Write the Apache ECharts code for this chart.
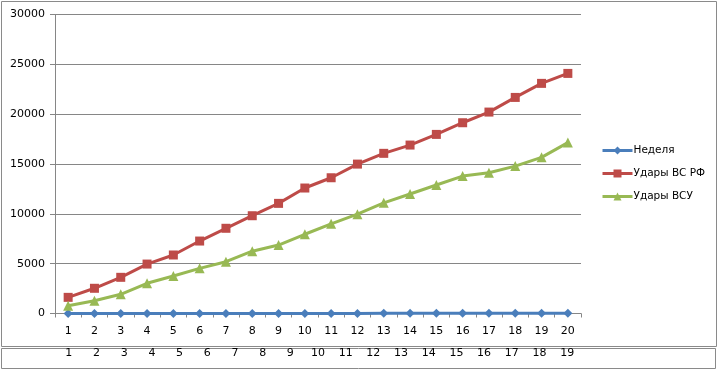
<!DOCTYPE html>
<html>
<head>
<meta charset="utf-8">
<script src="https://cdn.jsdelivr.net/npm/echarts@6/dist/echarts.min.js"></script>
<style>
html,body{margin:0;padding:0;background:#fff;}
#chart{width:719px;height:371px;}
</style>
</head>
<body>
<div id="chart"></div>
<script>
var categories = ['1','2','3','4','5','6','7','8','9','10','11','12','13','14','15','16','17','18','19','20'];
var categories2 = ['1','2','3','4','5','6','7','8','9','10','11','12','13','14','15','16','17','18','19'];
var weekValues = [1,2,3,4,5,6,7,8,9,10,11,12,13,14,15,16,17,18,19,20];
var rfValues = [1620,2530,3630,4960,5870,7270,8550,9810,11050,12590,13620,14990,16070,16900,17970,19140,20210,21680,23090,24090];
var vsuValues = [770,1280,1930,3030,3760,4530,5200,6250,6870,7950,9000,9970,11100,11990,12890,13790,14120,14790,15670,17150];
var yTicks = [0,5000,10000,15000,20000,25000,30000];

var font = 'DejaVu Sans';
var chart = echarts.init(document.getElementById('chart'));
chart.setOption({
  animation: false,
  backgroundColor: '#ffffff',
  textStyle: {fontFamily: font},
  grid: {left: 55, right: 138, top: 14.5, bottom: 57.5},
  legend: {
    orient: 'vertical', left: 596, top: 140, itemGap: 12,
    itemWidth: 30, itemHeight: 10,
    lineStyle: {width: 3},
    textStyle: {fontFamily: font, fontSize: 10.5, color: '#000', padding: [0, 0, 0, -4]},
    data: ['Неделя','Удары ВС РФ','Удары ВСУ']
  },
  xAxis: [{
    type: 'category', data: categories, boundaryGap: true, position: 'bottom',
    axisLine: {lineStyle: {color: '#868686', width: 1}},
    axisTick: {show: true, length: 4, lineStyle: {color: '#868686'}},
    axisLabel: {color: '#000', fontFamily: font, fontSize: 11, margin: 12, interval: 0}
  }, {
    type: 'category', data: categories2, boundaryGap: true, position: 'bottom', offset: 22,
    axisLine: {show: false}, axisTick: {show: false},
    axisLabel: {color: '#000', fontFamily: font, fontSize: 11, margin: 12, interval: 0}
  }],
  yAxis: {
    type: 'value', min: yTicks[0], max: yTicks[yTicks.length-1], interval: 5000,
    axisLine: {show: true, lineStyle: {color: '#868686'}},
    axisTick: {show: true, length: 5, lineStyle: {color: '#868686'}},
    splitLine: {lineStyle: {color: '#868686', width: 1}},
    axisLabel: {color: '#000', fontFamily: font, fontSize: 11, margin: 10, formatter: function (v) { return String(v); }}
  },
  graphic: [
    {type: 'rect', shape: {x: 1.5, y: 1.5, width: 715, height: 345}, style: {fill: 'none', stroke: '#8a8a8a', lineWidth: 1}, z: -1},
    {type: 'rect', shape: {x: 1.5, y: 348.5, width: 714, height: 20}, style: {fill: 'none', stroke: '#8a8a8a', lineWidth: 1}, z: -1}
  ],
  series: [{
    name: 'Неделя', type: 'line', xAxisIndex: 0, data: weekValues,
    symbol: 'diamond', symbolSize: 9,
    lineStyle: {color: '#4A7EBB', width: 3}, itemStyle: {color: '#4A7EBB'}, z: 3
  }, {
    name: 'Удары ВС РФ', type: 'line', xAxisIndex: 0, data: rfValues,
    symbol: 'rect', symbolSize: 9,
    lineStyle: {color: '#BE4B48', width: 3}, itemStyle: {color: '#BE4B48'}
  }, {
    name: 'Удары ВСУ', type: 'line', xAxisIndex: 0, data: vsuValues,
    symbol: 'triangle', symbolSize: 10,
    lineStyle: {color: '#98B954', width: 3}, itemStyle: {color: '#98B954'}
  }]
});
</script>
</body>
</html>
